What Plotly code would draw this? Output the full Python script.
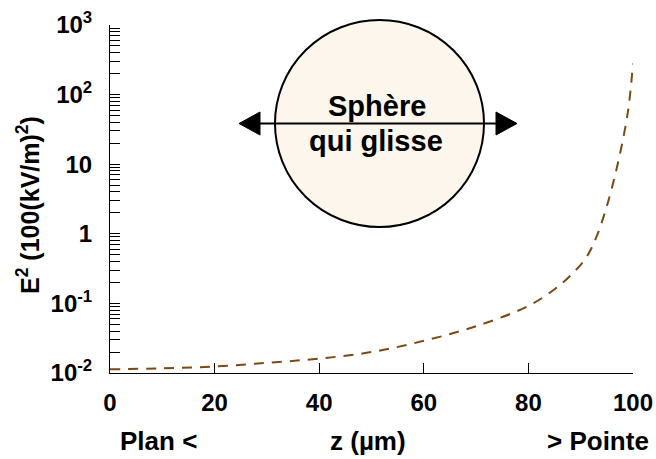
import plotly.graph_objects as go

# data
z_um = [0, 10, 20, 30, 40, 50, 60, 70, 80, 85, 88, 91, 93, 95, 97, 99, 100]
e2 = [0.0113, 0.0117, 0.0124, 0.014, 0.0161, 0.020, 0.029, 0.047, 0.092,
      0.16, 0.25, 0.45, 0.9, 2.5, 9.5, 55, 280]

x_tickvals = [0, 20, 40, 60, 80, 100]
x_ticktext = ["0", "20", "40", "60", "80", "100"]

y_major = [0.01, 0.1, 1, 10, 100, 1000]
y_major_text = ["10<sup>-2</sup>", "10<sup>-1</sup>", "1", "10", "10<sup>2</sup>", "10<sup>3</sup>"]
y_minor = [b * m for b in y_major[:-1] for m in range(2, 10)]

FONT = "Liberation Sans, Arial, sans-serif"

fig = go.Figure()
fig.add_trace(go.Scatter(
    x=z_um, y=e2, mode="lines", line_shape="spline",
    line=dict(color="#7A4A14", width=2, dash="10px,8px"),
    showlegend=False, hoverinfo="skip",
))

# paper-coordinate helpers (plot area: x 110..633 px, y 25..373 px)
def px(xp):
    return (xp - 110) / 523.0

def py(yp):
    return (373 - yp) / 348.0

shapes = [
    dict(type="circle", xref="paper", yref="paper",
         x0=px(275), x1=px(484), y0=py(227), y1=py(20),
         fillcolor="#FCF6EC", line=dict(color="black", width=2), layer="above"),
    dict(type="line", xref="paper", yref="paper",
         x0=px(250), x1=px(505), y0=py(123.5), y1=py(123.5),
         line=dict(color="black", width=2), layer="above"),
    dict(type="path", xref="paper", yref="paper",
         path=f"M {px(239)},{py(123.5)} L {px(260)},{py(112)} L {px(260)},{py(135)} Z",
         fillcolor="black", line=dict(color="black", width=1), layer="above"),
    dict(type="path", xref="paper", yref="paper",
         path=f"M {px(517)},{py(123.5)} L {px(496)},{py(112)} L {px(496)},{py(135)} Z",
         fillcolor="black", line=dict(color="black", width=1), layer="above"),
]

def ann(text, x, y, size, angle=0):
    return dict(text=text, xref="paper", yref="paper", x=px(x), y=py(y),
                xanchor="center", yanchor="middle", textangle=angle,
                showarrow=False, font=dict(family=FONT, size=size, color="black"))

annotations = [
    ann("<b>Sphère</b>", 377, 106, 29),
    ann("<b>qui glisse</b>", 376, 141, 29),
    ann("<b>Plan <</b>", 158, 441, 26),
    ann("<b>z (µm)</b>", 368, 441, 26),
    ann("<b>> Pointe</b>", 598, 441, 26),
    ann("<b>E<sup>2</sup> (100(kV/m)<sup>2</sup>)</b>", 28, 205, 25, -90),
]

fig.update_layout(
    template="none",
    width=656, height=459,
    margin=dict(l=110, r=23, t=25, b=86, autoexpand=False),
    paper_bgcolor="white", plot_bgcolor="white",
    font=dict(family=FONT, size=22, color="black", weight="bold"),
    shapes=shapes, annotations=annotations,
    xaxis=dict(range=[0, 100], tickvals=x_tickvals, ticktext=[f"<b>{t}</b>" for t in x_ticktext],
               ticks="inside", ticklen=10, tickwidth=1, tickcolor="black",
               showline=True, linecolor="black", linewidth=1, mirror=False,
               showgrid=False, zeroline=False, ticklabelstandoff=8, automargin=False,
               tickfont=dict(family=FONT, size=24, color="black")),
    yaxis=dict(type="log", range=[-2, 3], tickvals=y_major,
               ticktext=[f"<b>{t}</b>" for t in y_major_text],
               ticks="inside", ticklen=10, tickwidth=1, tickcolor="black",
               minor=dict(tickvals=y_minor, ticks="inside", ticklen=10,
                          tickwidth=1, tickcolor="black", showgrid=False),
               showline=True, linecolor="black", linewidth=1, mirror=False,
               showgrid=False, zeroline=False, ticklabelstandoff=12, automargin=False,
               tickfont=dict(family=FONT, size=24, color="black")),
)

fig.write_html("out.html", config={"displayModeBar": False},
               post_script="document.body.style.margin='0px';document.body.style.overflow='hidden';")
